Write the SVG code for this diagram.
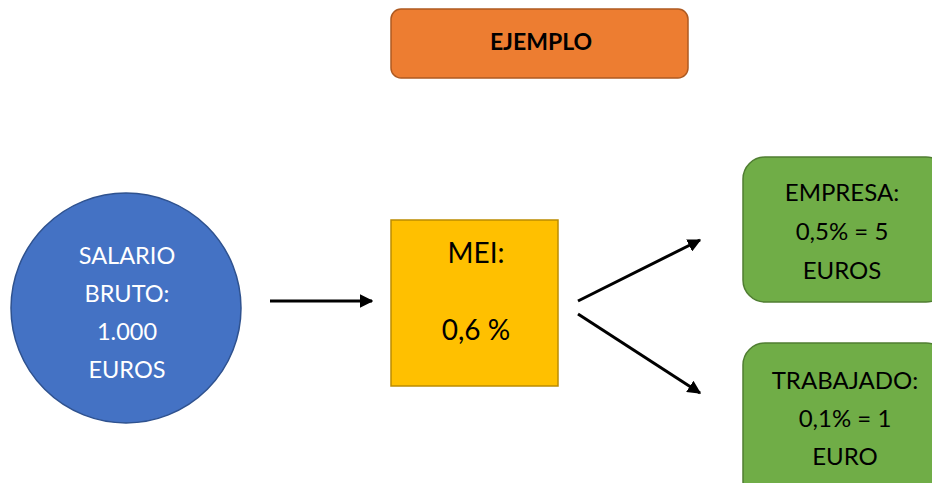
<svg xmlns="http://www.w3.org/2000/svg" width="932" height="483" viewBox="0 0 932 483">
<style>
text{font-family:Lato,"Open Sans","Liberation Sans",sans-serif;text-anchor:middle}
.w{fill:#fff;font-size:23.5px}
.k{fill:#000;font-size:24px}
.conn{stroke:#000;stroke-width:3;fill:none}
</style>
<defs>
<marker id="ah" viewBox="0 0 10 10" refX="9" refY="5" markerWidth="4.5" markerHeight="4.5" orient="auto" markerUnits="strokeWidth">
<path d="M0,0 L10,5 L0,10 Z" fill="#000"/>
</marker>
</defs>
<rect width="932" height="483" fill="#fff"/>
<g id="ejemplo">
<rect x="391" y="9" width="297" height="69" rx="10" fill="#ED7D31" stroke="#AE5A21" stroke-width="1.5"/>
<text x="541" y="50" style="font-size:23px;font-weight:bold">EJEMPLO</text>
</g>
<g id="salario">
<circle cx="126" cy="308" r="115" fill="#4472C4" stroke="#2F528F" stroke-width="1.5"/>
<text class="w" x="127" y="264">SALARIO</text>
<text class="w" x="127" y="302">BRUTO:</text>
<text class="w" x="127" y="340">1.000</text>
<text class="w" x="127" y="378">EUROS</text>
</g>
<g id="mei">
<rect x="391" y="220" width="167" height="166" fill="#FFC000" stroke="#BC8C00" stroke-width="1.5"/>
<text x="476" y="263" style="font-size:28px">MEI:</text>
<text x="476" y="340" style="font-size:28px">0,6 %</text>
</g>
<g id="empresa">
<rect x="743" y="157" width="205" height="145" rx="22" fill="#70AD47" stroke="#507E32" stroke-width="1.5"/>
<text class="k" x="842" y="201">EMPRESA:</text>
<text class="k" x="842" y="240">0,5% = 5</text>
<text class="k" x="842" y="279">EUROS</text>
</g>
<g id="trabajado">
<rect x="743" y="343" width="205" height="160" rx="22" fill="#70AD47" stroke="#507E32" stroke-width="1.5"/>
<text class="k" x="845" y="389">TRABAJADO:</text>
<text class="k" x="845" y="427">0,1% = 1</text>
<text class="k" x="845" y="465">EURO</text>
</g>
<g id="connectors">
<line class="conn" x1="270" y1="301" x2="372" y2="301" marker-end="url(#ah)"/>
<line class="conn" x1="578" y1="301" x2="700" y2="240" marker-end="url(#ah)"/>
<line class="conn" x1="578" y1="314" x2="700" y2="393" marker-end="url(#ah)"/>
</g>
</svg>
